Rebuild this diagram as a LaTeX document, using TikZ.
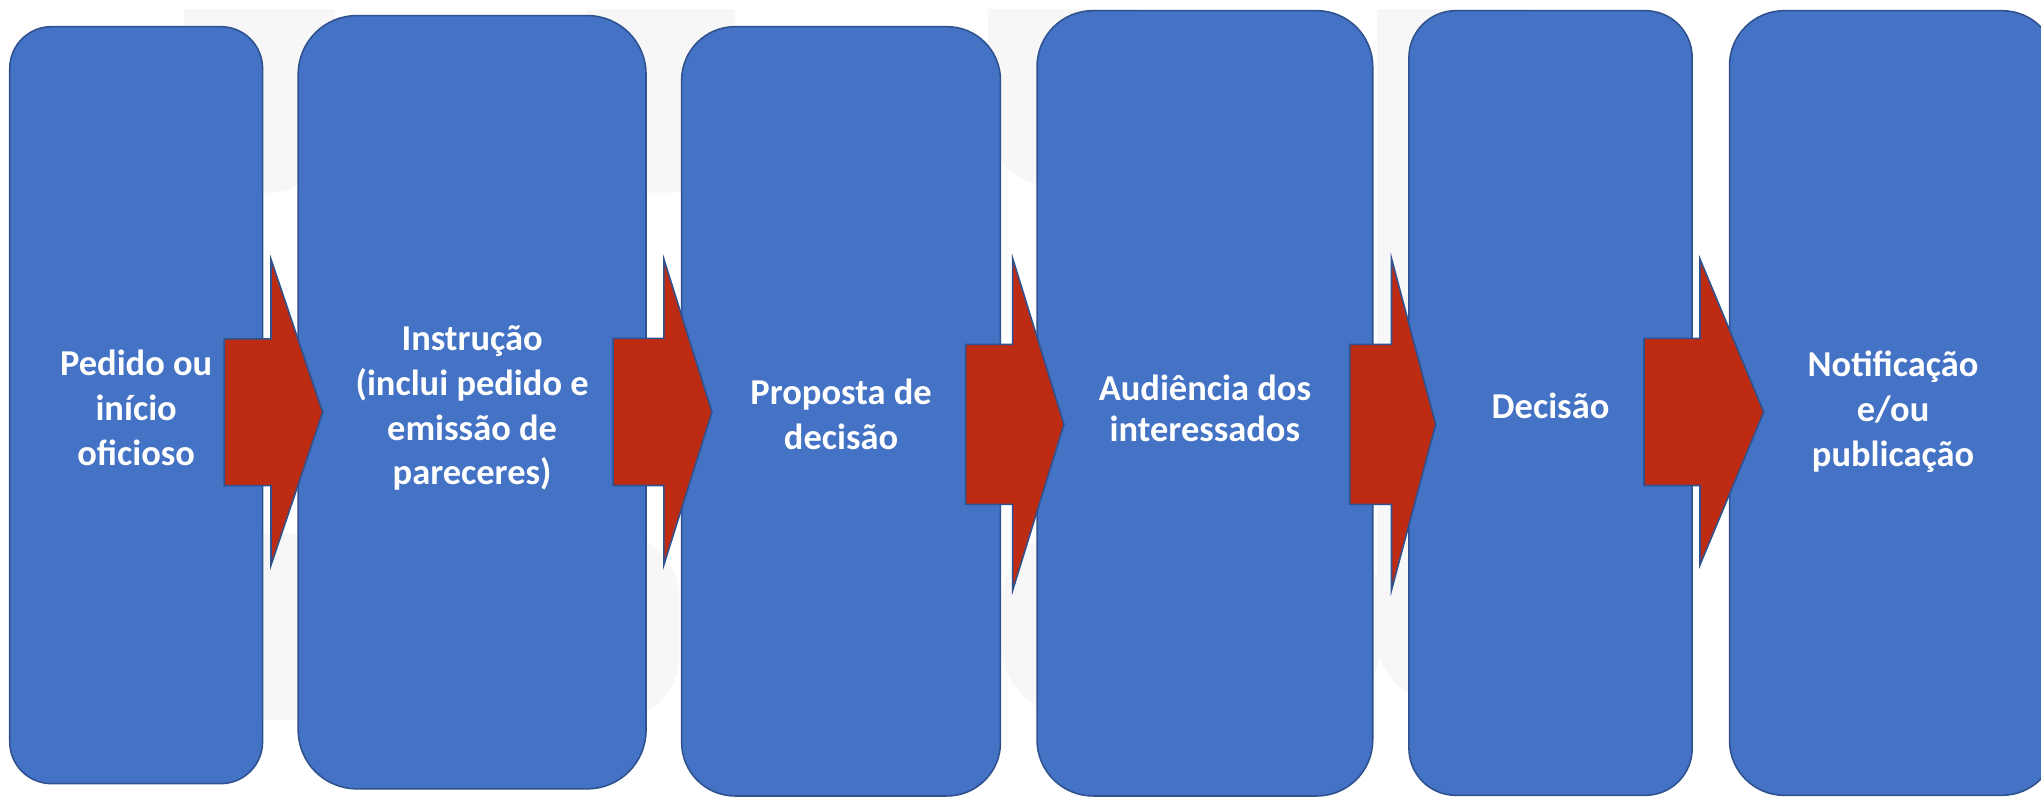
\documentclass[tikz,border=0pt]{standalone}
\usepackage{fontspec}
\setmainfont{Carlito}
\definecolor{boxblue}{HTML}{4472C4}
\definecolor{boxline}{HTML}{2F528F}
\definecolor{arrowred}{HTML}{BD2B13}
\definecolor{ghostgray}{HTML}{F7F7F7}
\newcommand\blkarrow[6]{% tail, base, tip, cy, shafthalf, headhalf
  \draw[arrowshape] (#1,#4-#5) -- (#2,#4-#5) -- (#2,#4-#6) -- (#3,#4) -- (#2,#4+#6) -- (#2,#4+#5) -- (#1,#4+#5) -- cycle;}
\begin{document}
\begin{tikzpicture}[x=1pt,y=-1pt,
  box/.style={draw=boxline, fill=boxblue, line width=1.2pt, inner sep=0pt, outer sep=0pt},
  boxtext/.style={text=white, font=\bfseries\fontsize{28}{34.5}\selectfont, align=center, inner sep=0pt},
  arrowshape/.style={draw=boxline, fill=arrowred, line width=1.2pt, line join=miter},
  ghost/.style={fill=ghostgray, rounded corners=50pt}]
\useasboundingbox (0,0) rectangle (1568,612.3);
\clip (0,0) rectangle (1568,612.3);
% faint background shapes
\begin{scope}
  \clip (0,7) rectangle (1568,612.3);
  \fill[ghost] (141,-60) rectangle (257,148);
  \fill[ghost] (450,-60) rectangle (565,148);
  \fill[ghost] (759,-60) rectangle (875,143);
  \fill[ghost] (1058,-60) rectangle (1175,540);
  \fill[ghost] (150,410) rectangle (522,553);
  \fill[ghost] (770,410) rectangle (1060,548);
\end{scope}
% process boxes
\node[box, minimum width=194.2pt, minimum height=581.5pt, rounded corners=32pt] (b1) at (104.6,311.25) {};
\node[box, minimum width=267.2pt, minimum height=594pt, rounded corners=45pt] (b2) at (362.7,309) {};
\node[box, minimum width=244.9pt, minimum height=591pt, rounded corners=41pt] (b3) at (646.15,316) {};
\node[box, minimum width=257.9pt, minimum height=603.3pt, rounded corners=43pt] (b4) at (925.65,309.85) {};
\node[box, minimum width=217.6pt, minimum height=602.8pt, rounded corners=36pt] (b5) at (1191.2,309.6) {};
\node[box, minimum width=251.3pt, minimum height=602.8pt, rounded corners=42pt] (b6) at (1454.35,309.6) {};
% labels
\node[boxtext] (t1) at ([yshift=-2pt]b1.center) {Pedido ou\\início\\oficioso};
\node[boxtext] (t2) at ([yshift=-4.5pt]b2.center) {Instrução\\(inclui pedido e\\emissão de\\pareceres)};
\node[boxtext] (t3) at ([yshift=-2.5pt]b3.center) {Proposta de\\decisão};
\node[boxtext, font=\bfseries\fontsize{28}{31.5}\selectfont] (t4) at ([yshift=-3.5pt]b4.center) {Audiência dos\\interessados};
\node[boxtext] (t5) at ([yshift=-2pt]b5.center) {Decisão};
\node[boxtext] (t6) at ([yshift=-6.5pt]b6.center) {Notificação\\e/ou\\publicação};
% block arrows
\blkarrow{172.3}{208.2}{247.9}{316.7}{56.4}{117.5}
\blkarrow{471}{510}{547}{316.5}{56.5}{117.5}
\blkarrow{741.9}{778}{817.4}{326}{61.5}{127.5}
\blkarrow{1037}{1069}{1103}{326}{61.5}{127.5}
\blkarrow{1263}{1306}{1355}{316.5}{56.5}{117.5}
\end{tikzpicture}
\end{document}
